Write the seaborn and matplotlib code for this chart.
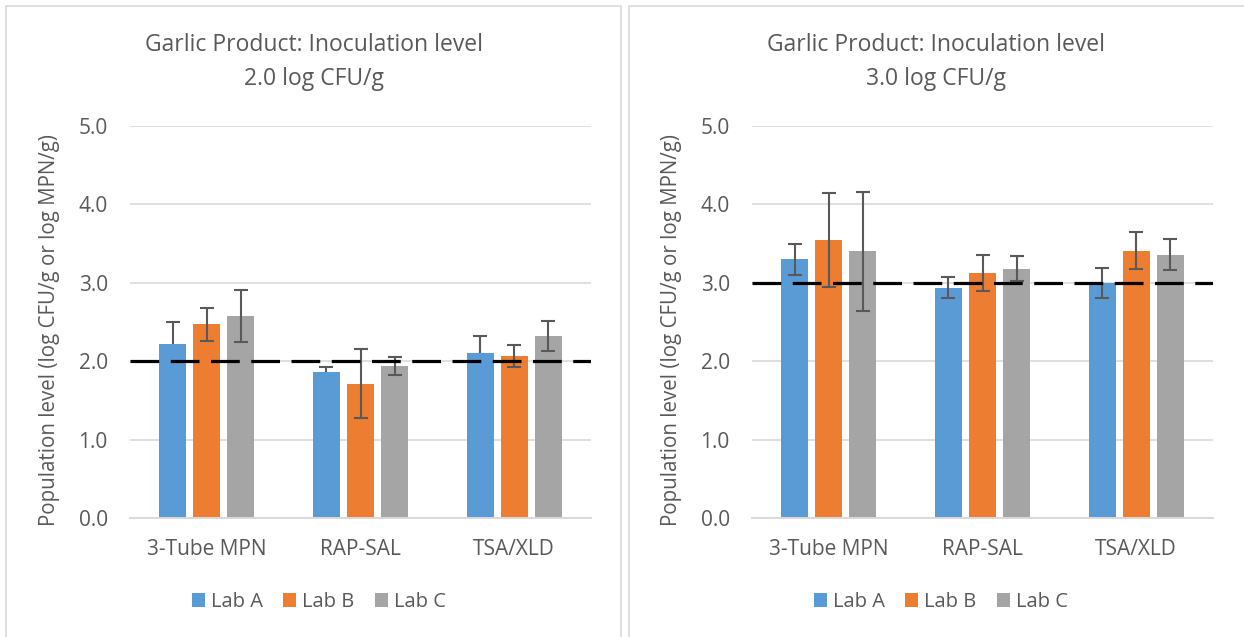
import numpy as np
import pandas as pd
import matplotlib
matplotlib.use('Agg')
import matplotlib.pyplot as plt
import seaborn as sns
from matplotlib.patches import Rectangle

methods = ['3-Tube MPN', 'RAP-SAL', 'TSA/XLD']
labs = ['Lab A', 'Lab B', 'Lab C']

# mean log counts, rows = labs, cols = methods
mean_2log = [[2.22, 1.86, 2.10],
             [2.47, 1.71, 2.07],
             [2.58, 1.94, 2.32]]
# upper / lower error (Lab A in the 2.0 panel only has plus bars)
err_up_2log = [[0.28, 0.06, 0.22],
               [0.21, 0.44, 0.14],
               [0.33, 0.11, 0.19]]
err_lo_2log = [[0.0, 0.0, 0.0],
               [0.21, 0.44, 0.14],
               [0.33, 0.11, 0.19]]

mean_3log = [[3.30, 2.94, 3.00],
             [3.55, 3.12, 3.41],
             [3.40, 3.18, 3.36]]
err_up_3log = [[0.20, 0.13, 0.19],
               [0.60, 0.23, 0.24],
               [0.76, 0.16, 0.20]]
err_lo_3log = err_up_3log

inoc_levels = [2.0, 3.0]
titles = ['Garlic Product: Inoculation level\n2.0 log CFU/g',
          'Garlic Product: Inoculation level\n3.0 log CFU/g']

colors = ['#5B9BD5', '#ED7D31', '#A5A5A5']
txt = '#595959'
grid = '#D9D9D9'
ecol = '#595959'

sns.set_theme(style='white')
plt.rcParams['font.family'] = ['Open Sans', 'DejaVu Sans']


def make_df(means, up, lo):
    rows = []
    for i, lab in enumerate(labs):
        for j, m in enumerate(methods):
            rows.append({'Method': m, 'Lab': lab, 'value': means[i][j],
                         'up': up[i][j], 'lo': lo[i][j]})
    return pd.DataFrame(rows)


W, H = 1244, 637
fig = plt.figure(figsize=(W / 100, H / 100), dpi=100)

# panel frames
for x0, x1 in [(6, 621), (629, 1248)]:
    fig.patches.append(Rectangle((x0 / W, -0.01), (x1 - x0) / W, 1 - 6 / H + 0.01,
                                 transform=fig.transFigure, fill=False,
                                 edgecolor=grid, lw=1.2))

panels = [(mean_2log, err_up_2log, err_lo_2log, 130, 314),
          (mean_3log, err_up_3log, err_lo_3log, 752, 936)]

for k, (means, up, lo, ax_left, pcx) in enumerate(panels):
    df = make_df(means, up, lo)
    ax = fig.add_axes([ax_left / W, (H - 518) / H, 461 / W, 392 / H])
    ax.set_zorder(1)
    sns.barplot(data=df, x='Method', y='value', hue='Lab', palette=colors,
                width=0.664, gap=0.2, errorbar=None, saturation=1,
                linewidth=0, ax=ax, zorder=2)

    # error bars on each drawn bar (caps only where the bar has that side)
    for cont, lab in zip(ax.containers, labs):
        sub = df[df['Lab'] == lab].set_index('Method').loc[methods]
        xs = np.array([p.get_x() + p.get_width() / 2 for p in cont.patches])
        ax.errorbar(xs, sub['value'], yerr=[sub['lo'], sub['up']], fmt='none',
                    ecolor=ecol, elinewidth=1.5, capsize=0, zorder=3)
        ax.plot(xs, sub['value'] + sub['up'], ls='none', marker='_',
                ms=9.5, mew=1.5, color=ecol, zorder=3)
        has_lo = (sub['lo'] > 0).values
        ax.plot(xs[has_lo], (sub['value'] - sub['lo']).values[has_lo], ls='none',
                marker='_', ms=9.5, mew=1.5, color=ecol, zorder=3)

    ax.axhline(inoc_levels[k], color='black', lw=2.3, ls=(0, (9, 3.6)), zorder=4)

    ax.set_ylim(0, 5)
    ax.set_xlim(-0.5, 2.5)
    ax.set_yticks(np.arange(0, 5.01, 1.0))
    ax.set_yticklabels([f'{v:.1f}' for v in np.arange(0, 5.01, 1.0)])
    ax.yaxis.grid(True, color=grid, lw=1.2, zorder=0)
    ax.set_axisbelow(True)
    for s in ['top', 'right', 'left']:
        ax.spines[s].set_visible(False)
    ax.spines['bottom'].set_color(grid)
    ax.spines['bottom'].set_linewidth(1.4)
    ax.tick_params(axis='both', length=0, labelsize=15, colors=txt)
    ax.tick_params(axis='y', pad=16)
    ax.tick_params(axis='x', pad=15)
    ax.set_xlabel('')
    ax.set_ylabel('')

    handles, labels = ax.get_legend_handles_labels()
    ax.legend(handles[:3], labels[:3], loc='center', ncol=3, frameon=False,
              bbox_to_anchor=(pcx / W + 0.004, 1 - 602 / H),
              bbox_transform=fig.transFigure, fontsize=14.5,
              handlelength=0.65, handleheight=0.65, handletextpad=0.3,
              columnspacing=1.0, labelcolor=txt)

    fig.text(pcx / W, 1 - 62 / H, titles[k], ha='center', va='center',
             fontsize=16.5, color=txt, linespacing=1.6)
    fig.text((ax_left - 80) / W, 1 - 330 / H,
             'Population level (log CFU/g or log MPN/g)', rotation=90,
             ha='center', va='center', fontsize=14.8, color=txt)

fig.savefig('out.png', dpi=100)
